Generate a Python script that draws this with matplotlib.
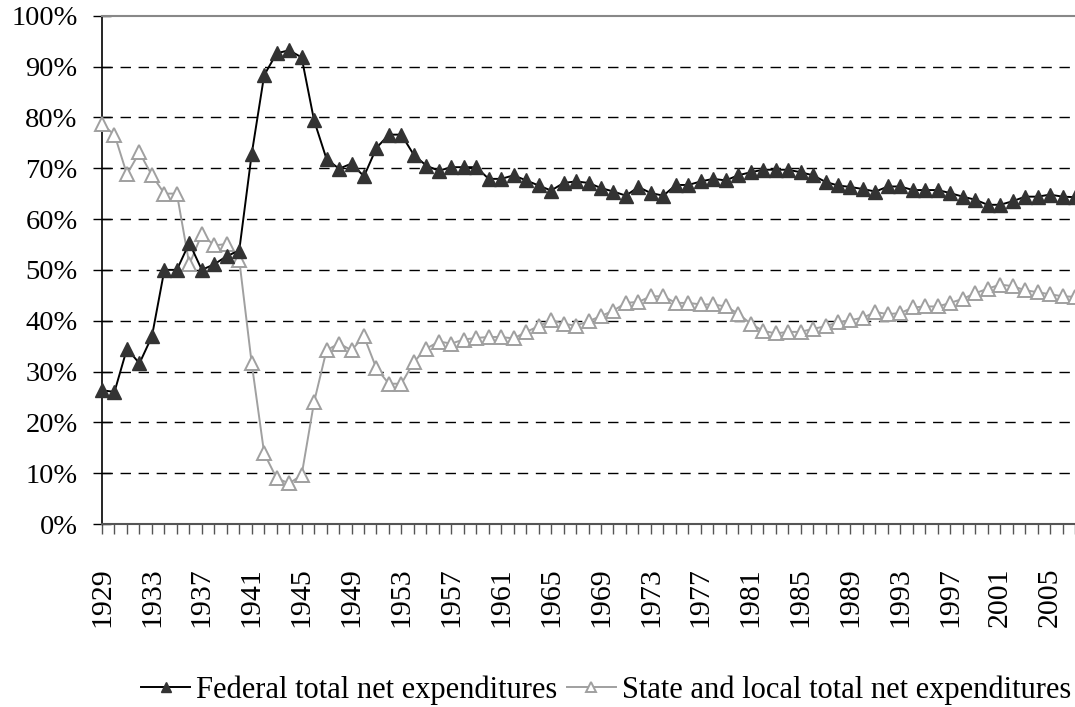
import numpy as np
import matplotlib

matplotlib.use("Agg")
import matplotlib.pyplot as plt
from matplotlib.ticker import FuncFormatter

plt.rcParams["font.family"] = ["Liberation Serif", "DejaVu Serif"]

years = list(range(1929, 2008))

federal = [
    26.3, 26.0, 34.5, 31.6, 36.9, 50.0, 50.0, 55.3, 50.0, 51.1, 52.7,  # 1929-39
    53.8, 72.8, 88.3, 92.6, 93.2, 91.8, 79.4, 71.8, 69.9, 70.9,        # 1940-49
    68.4, 74.0, 76.6, 76.6, 72.6, 70.5, 69.5, 70.2, 70.2, 70.2,        # 1950-59
    67.9, 67.9, 68.6, 67.6, 66.6, 65.6, 67.1, 67.4, 67.1, 66.1,        # 1960-69
    65.4, 64.6, 66.3, 65.1, 64.6, 66.7, 66.7, 67.4, 67.9, 67.6,        # 1970-79
    68.6, 69.2, 69.7, 69.7, 69.7, 69.2, 68.6, 67.3, 66.6, 66.3,        # 1980-89
    65.9, 65.4, 66.4, 66.4, 65.7, 65.7, 65.7, 65.1, 64.4, 63.8,        # 1990-99
    62.8, 62.8, 63.5, 64.4, 64.4, 64.8, 64.4, 64.3,                    # 2000-07
]

state_local = [
    78.6, 76.6, 68.8, 73.1, 68.6, 65.0, 65.0, 51.1, 57.0, 54.8, 55.1,  # 1929-39
    52.0, 31.6, 13.9, 9.0, 8.0, 9.6, 24.0, 34.2, 35.5, 34.2,           # 1940-49
    36.9, 30.6, 27.6, 27.6, 31.9, 34.5, 35.9, 35.5, 36.3, 36.6,        # 1950-59
    36.8, 36.8, 36.5, 37.8, 38.9, 40.1, 39.4, 39.0, 39.9, 40.9,        # 1960-69
    42.0, 43.5, 43.7, 44.8, 44.8, 43.5, 43.5, 43.2, 43.2, 42.8,        # 1970-79
    41.4, 39.4, 38.0, 37.5, 37.8, 37.8, 38.4, 38.9, 39.7, 40.1,        # 1980-89
    40.6, 41.7, 41.3, 41.5, 42.6, 42.8, 42.8, 43.5, 44.3, 45.4,        # 1990-99
    46.3, 47.1, 46.8, 46.0, 45.6, 45.2, 44.8, 44.7,                    # 2000-07
]

labels = ["Federal total net expenditures",
          "State and local total net expenditures"]

fig = plt.figure(figsize=(10.75, 7.07), dpi=100)
ax = fig.add_axes([0.0949, 0.2588, 0.9051, 0.719])

# gridlines
for v in range(10, 100, 10):
    ax.axhline(v, color="black", lw=1.0, ls=(0, (7.5, 5.5)), zorder=1)

ax.plot(years, federal, color="black", lw=1.4, marker="^", ms=9.5,
        mfc="#333333", mec="#333333", label=labels[0], zorder=4,
        clip_on=False)
ax.plot(years, state_local, color="#a0a0a0", lw=1.4, marker="^", ms=9.5,
        mfc="white", mec="#a0a0a0", mew=1.4, label=labels[1], zorder=3,
        clip_on=False)

ax.set_xlim(1929, 2007)
ax.set_ylim(0, 100)

ax.set_yticks(range(0, 101, 10))
ax.yaxis.set_major_formatter(FuncFormatter(lambda v, p: f"{v:.0f}%"))
ax.tick_params(axis="y", direction="inout", length=13, width=1.0,
               labelsize=20.5, pad=11, color="black")

ax.set_xticks(years)
ax.set_xticklabels([str(y) if (y - 1929) % 4 == 0 else "" for y in years],
                   rotation=90)
ax.tick_params(axis="x", direction="out", length=7, width=1.0,
               labelsize=21.5, pad=24, color="#555555")

ax.spines["right"].set_visible(False)
ax.spines["top"].set_color("#888888")
ax.spines["top"].set_linewidth(1.5)
ax.spines["left"].set_color("black")
ax.spines["left"].set_linewidth(1.2)
ax.spines["bottom"].set_color("#555555")
ax.spines["bottom"].set_linewidth(1.5)

handles, lbls = ax.get_legend_handles_labels()
fig.legend(handles, lbls, loc="center", bbox_to_anchor=(0.564, 0.024),
           ncol=2, frameon=False, fontsize=22, handlelength=1.6,
           handletextpad=0.2, columnspacing=0.3, markerscale=0.7)

fig.savefig("out.png", dpi=100)
